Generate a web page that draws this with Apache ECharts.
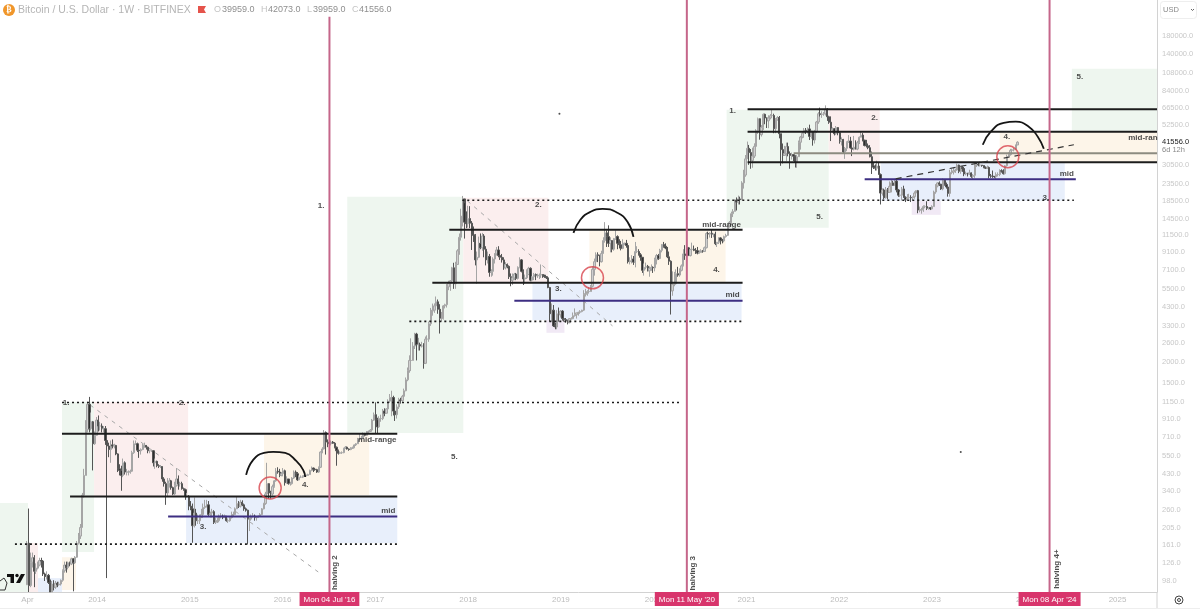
<!DOCTYPE html>
<html><head><meta charset="utf-8">
<script src="https://cdn.jsdelivr.net/npm/echarts@6/dist/echarts.min.js"></script>
<style>html,body{margin:0;padding:0;background:#fff}#c{width:1200px;height:610px}</style></head>
<body><div id="c"></div>
<script>
// ---- weekly data (first bar: week of 2013-04-01) ----
const firstOpen = 93;
const closes = [
165,92,127,135,112,117,122,130,129,108,104,106,96,77,94,90,95,93,94,99,113,122,118,126,124,133,126,136,165,182,205,320,420,790,1120,800,880,650,730,900,
830,830,800,800,680,630,600,640,630,635,565,460,450,420,500,440,440,440,445,575,650,650,595,590,600,630,635,620,590,590,590,500,510,480,475,475,400,375,330,375,390,355,325,365,400,375,375,350,345,315,315,275,
265,210,250,225,225,235,245,270,275,280,245,250,255,220,225,225,240,240,235,240,225,225,235,245,245,265,285,275,290,280,265,260,230,230,240,240,235,235,240,245,265,285,325,375,330,325,360,390,445,440,420,430,
448,380,400,375,375,405,440,430,395,410,410,415,420,420,425,450,465,458,455,440,470,580,605,760,665,660,650,665,655,620,590,570,575,575,610,620,605,600,610,615,640,650,690,700,700,745,730,765,770,785,900,970,
905,820,920,920,1020,990,1050,1170,1230,1230,1020,970,1080,1190,1180,1250,1350,1570,1780,2050,2050,2500,2950,2550,2550,2500,2500,1970,2750,2750,3400,4050,4100,4350,4600,4150,3650,3650,4350,4420,5650,5950,6150,7350,5900,7700,9300,11200,15000,19000,13800,13500,
14500,13600,11600,11500,8200,8500,10300,9700,11400,9500,8200,8600,6900,7000,8300,8900,9400,8700,8500,8200,7350,7700,7500,6500,6200,6400,6750,6350,7400,8200,7000,6300,6400,6700,7300,6200,6500,6700,6600,6600,6650,6700,6650,6500,6400,5600,3900,4100,3300,3250,3900,3850,4050,
3650,3600,3550,3450,3650,3650,3800,3850,3950,3980,4020,4100,5100,5150,5300,5300,5700,7200,8000,8800,8700,8000,8950,10700,11900,11300,10300,10700,9500,11000,11300,10300,10100,9600,10300,10300,10000,8000,8100,8300,7950,9200,9200,8800,8500,7100,7400,7500,7050,7300,7400,7350,
8200,8700,8350,9350,10150,9900,9650,8550,8050,5350,5850,5900,6780,6650,7100,7550,8900,8700,9680,8700,9450,9500,9350,9300,9000,9070,9300,9200,9700,11800,11700,11850,11650,11700,10250,10450,11100,10750,10650,11300,11500,13100,13750,15500,16000,18700,18200,19000,18800,23700,26400,33000,
38200,36000,32300,34300,39200,48600,57400,46100,51000,61000,58000,55800,58000,59800,60000,50000,56500,58300,46700,37500,34600,35500,39100,35500,34600,35000,34200,31500,34000,41500,44600,47000,49000,48800,49900,45000,48300,42800,48200,54900,61500,60900,61300,61500,65500,59000,54700,49200,50000,46700,50800,47300,
41900,43100,36300,38200,41500,42200,38400,37700,38800,37800,41300,44500,45800,42800,39700,39500,38500,34000,30000,29400,29000,29900,26600,20600,21500,19300,21600,20800,22600,23700,22900,24300,21500,20000,20000,21800,19400,18800,19300,19400,19300,19600,20600,21300,16300,16300,16400,17100,17100,16700,16850,16550,
17100,20900,22700,23700,23300,21800,24600,23200,22400,20500,27400,27500,28000,28300,30300,27800,29300,28900,26800,27100,26800,27200,25900,26300,30500,30600,30300,30300,30100,29400,29000,29300,26100,26000,25900,25800,26600,26600,28000,27900,26900,30000,34100,35000,37100,37400,37500,39959,41556];
const highs = [
170,266,145,145,140,125,128,135,135,130,110,112,108,100,98,99,98,97,97,100,115,128,128,128,128,135,134,138,170,190,215,330,460,900,1160,1240,1000,890,770,940,
960,880,860,830,830,700,660,680,690,650,640,570,490,480,530,510,460,450,455,590,680,680,660,610,610,650,660,630,625,600,600,595,530,515,490,485,475,410,385,405,405,395,360,385,465,420,385,385,355,350,330,320,
295,285,310,265,245,245,265,285,300,300,295,255,265,260,235,235,245,250,245,245,240,232,238,255,255,270,315,295,300,298,285,270,262,235,245,250,245,240,242,250,268,288,335,500,345,340,370,395,465,470,460,440,
465,455,415,400,385,410,450,450,440,420,420,420,425,425,430,455,475,468,462,460,475,585,620,785,770,690,680,680,675,665,625,600,585,585,615,630,625,610,620,625,645,655,705,745,725,760,755,775,780,795,915,1000,
1150,930,950,970,1050,1060,1060,1200,1290,1350,1260,1100,1120,1225,1225,1275,1390,1620,1860,2200,2780,2640,3000,3000,2800,2620,2650,2600,2850,2900,3500,4230,4490,4500,4950,4750,4450,4000,4400,4480,5880,6150,6200,7450,7880,7990,9500,11800,16600,19800,17900,16000,
17300,17200,14000,13000,11700,9200,11300,11800,11900,11700,9900,9200,8900,7200,8500,9000,9800,9900,9400,8900,8500,7950,7800,7600,6800,6800,6850,6850,7500,8500,8300,7200,6700,7200,7450,7400,6550,6850,6800,6780,6800,7700,6700,6600,6550,6500,5650,4500,4400,3450,4100,4250,4100,
4100,3700,3680,3600,3680,3720,3970,4200,3950,4010,4100,4120,5400,5500,5400,5650,5800,7500,8350,9100,9100,8800,9300,11200,13800,12300,13200,11200,10700,11100,12300,11500,10900,10650,10900,10400,10800,10100,8500,8750,8650,10500,9900,9500,9000,8500,7800,7900,7650,7500,7700,7500,
8450,8900,8900,9550,10200,10500,10300,9800,9200,8150,7000,6950,7200,7450,7300,7700,9500,10050,9950,9800,9550,10400,9990,9650,9800,9350,9500,9400,9850,12000,12100,12000,12500,11750,12100,10500,11200,11200,10950,11450,11750,13200,14000,15950,16500,18800,19400,19900,19600,24250,28400,34800,
41900,40000,37800,38500,40900,49700,58300,52600,52600,61800,61600,58500,60200,61200,64900,61500,57900,59500,59600,46700,40800,39500,41300,41300,36600,36000,35100,34700,34800,42500,45300,47900,50500,50500,51000,52900,48800,48500,49200,55700,62900,66900,63600,63000,69000,66300,59800,59300,51000,50500,51900,48400,
47900,44400,43500,38900,42000,45800,44700,40000,45300,42600,42300,45000,48200,47100,42400,42900,40800,39900,36500,31400,30600,32200,31500,27000,22000,21900,22400,22100,24200,24700,24400,25100,25200,21800,21000,22400,22800,19700,20300,20400,20000,19700,21100,21000,21500,17100,16800,17400,17400,18400,17000,16900,
17400,21300,23300,23900,24200,23400,25200,25000,23800,22700,28400,28900,29200,28800,30900,30500,30000,29800,29500,27700,27200,28400,27400,26800,31400,31400,31500,31800,30300,30100,29700,30100,29700,26800,28100,26100,27400,27400,28600,28600,28600,30300,35000,36100,37900,37900,38400,40200,42073];
const lows = [
93,55,90,118,90,108,115,120,118,105,98,100,94,66,76,86,88,90,92,92,97,110,110,115,120,122,85,124,135,162,175,205,310,420,760,760,780,450,640,730,
770,780,760,760,640,102,540,500,610,610,555,440,420,340,410,425,420,420,430,440,565,640,580,535,560,595,615,600,570,570,580,475,460,470,465,465,385,360,280,315,355,345,320,320,360,345,360,345,340,300,310,260,
260,166,205,210,215,215,235,235,265,270,240,235,235,215,215,218,220,232,230,235,222,218,222,232,240,245,265,268,270,275,258,255,162,195,225,235,225,225,235,238,243,263,280,320,305,305,318,355,385,430,410,415,
415,365,375,370,365,370,400,410,390,395,405,405,412,415,418,424,445,440,448,435,435,465,570,600,560,620,620,635,650,610,480,560,565,565,570,605,600,590,595,605,612,630,650,680,690,700,720,725,755,765,780,890,
750,750,810,880,900,950,985,1050,1140,950,960,890,920,1050,1130,1160,1230,1340,1540,1730,1780,2050,2400,2050,2350,2350,2450,1830,1950,2600,2650,3300,3800,3950,4300,3900,2970,3500,3600,4200,4250,5400,5350,6000,5500,5500,7650,8800,10700,13000,11000,12700,
12800,12700,9400,10500,7600,5900,8400,9500,9300,8500,7600,7800,6500,6500,6600,7800,8700,8500,8200,7900,7150,7200,7300,6300,5700,5800,6200,6200,6250,7300,6900,5800,5900,6300,6650,6100,6100,6200,6200,6400,6300,6400,6400,6400,6300,5550,3500,3500,3250,3150,3150,3500,3700,
3550,3500,3450,3370,3420,3600,3620,3750,3650,3800,3900,3980,4050,4950,5000,5150,5300,5600,6600,7600,7950,7500,7900,8950,10400,9800,9800,9100,9100,9300,10800,9500,9600,9350,9500,10050,9700,7800,7700,7800,7650,7400,9000,8700,8100,6850,6600,7200,7000,6500,7050,6850,
7000,7700,8200,8300,9100,9700,9500,8400,7650,3860,5000,5700,6150,6500,6500,7000,7500,8200,8200,8700,8600,9350,9250,8900,8850,8950,9050,9050,9150,9600,10950,11150,11100,11200,10050,9800,10200,10150,10300,10450,11150,11400,12800,13250,14800,16000,16200,17600,17600,18700,21900,25800,
33000,30400,28800,29200,33400,38000,46500,43000,44900,49200,53200,50500,50400,56900,58500,47000,47000,56000,43800,30000,31000,34800,32000,34200,28800,32700,32000,29300,29200,33900,37500,43800,44200,46500,46800,42800,43600,39600,40800,47100,53500,59200,58100,59800,60000,55700,53500,42200,47400,45600,46000,45700,
40700,39700,35500,33000,36700,41200,38000,34300,37100,37600,37200,40500,44800,42000,39200,38600,37700,33700,26800,28700,28100,28100,26600,17600,19900,18900,19100,18900,20700,20800,22800,22700,20800,19550,19500,18600,19300,18200,18500,19000,18200,18650,19050,20100,15600,15800,15500,15900,16700,16300,16350,16300,
16500,17100,20400,22300,22700,21500,21400,22800,21900,19600,19600,26700,26600,27200,28000,27100,26900,27600,26000,26300,25900,26500,25400,24800,25400,29500,29800,29700,29600,29000,28700,28700,25200,25400,25400,25400,24900,25900,26000,27300,26600,26600,29700,33900,34500,36300,36600,37400,39959];

const priceTicks = [180000,140000,108000,84000,66500,52500,30500,23500,18500,14500,11500,9100,7100,5500,4300,3300,2600,2000,1500,1150,910,710,550,430,340,260,205,161,126,98];
const lastPrice = 41556;
const yearTicks = [2013.25,2014,2015,2016,2017,2018,2019,2020,2021,2022,2023,2024,2025];
const yearLabels = ['Apr','2014','2015','2016','2017','2018','2019','2020','2021','2022','2023','2024','2025'];
const halvings = [['2016-07-04',"Mon 04 Jul '16",234000],['2020-05-11',"Mon 11 May '20",295000],['2024-04-08',"Mon 08 Apr '24",295000]];

// zones: from year, to year, low price, high price, tint
const GREEN='#eef6ef',PINK='#fbeeee',BLUE='#e8effb',ORANGE='#fdf5e9',PURPLE='#f1e9f5';
const zones = [
[2012.954,2013.256,84.2,287,GREEN],[2013.256,2013.364,84.2,165.5,PINK],[2013.364,2013.622,84.2,102,BLUE],[2013.622,2013.773,86.6,136,ORANGE],
[2013.622,2013.968,146,1157,GREEN],[2013.968,2014.982,316.6,1157,PINK],[2014.96,2017.236,165.5,316.6,BLUE],[2015.80,2016.934,321,734,ORANGE],
[2016.697,2017.948,755,19570,GREEN],[2017.948,2018.865,5974,19300,PINK],[2018.693,2020.947,3586,5974,BLUE],[2018.844,2019.038,3000,3586,PURPLE],[2019.307,2020.775,5974,12240,ORANGE],
[2020.786,2021.886,12760,64980,GREEN],[2021.886,2022.436,31270,64980,PINK],[2022.447,2024.431,18510,31270,BLUE],[2022.781,2023.094,15260,18510,PURPLE],[2023.73,2025.425,31480,47980,ORANGE],
[2024.507,2025.425,47980,114300,GREEN]];
// level lines: from year, to year, price
const solidLevels = [[2013.622,2017.236,745],[2013.709,2017.236,314],[2017.614,2020.958,5974],[2017.797,2020.958,12410],[2021.012,2025.425,31480],[2021.012,2025.425,47980],[2021.012,2025.425,65400]];
const grayLevels = [[2021.508,2025.425,35670]];
const midLevels = [[2014.766,2017.236,238.6],[2018.498,2020.958,4662],[2022.274,2024.55,24920]];
const dottedLevels = [[2013.115,2017.236,163],[2013.622,2020.289,1149],[2017.366,2020.958,3514],[2017.937,2024.529,18640]];
// trend lines: x0,p0,x1,p1
const grayTrends = [[2013.925,1110,2016.384,111],[2017.991,18510,2019.556,3300]];
const darkTrends = [[2022.608,25080,2024.529,40100]];
const arc1 = [[2015.607,423],[2015.683,520],[2015.80,573],[2015.899,581],[2016.028,573],[2016.147,513],[2016.222,453],[2016.244,411]];
const arc2 = [[2019.135,11900],[2019.210,14250],[2019.318,15900],[2019.448,16580],[2019.609,15690],[2019.717,13860],[2019.782,11270]];
const arc3 = [[2023.547,40100],[2023.633,47980],[2023.773,54300],[2023.903,55100],[2024.043,51400],[2024.14,44800],[2024.205,37950]];
const rings = [[2015.866,353],[2019.340,6400],[2023.817,34000]];
const specks = [[2018.984,61470],[2023.31,581]];
const notes = [
['1.',2016.416,17280],['2.',2018.757,17520],['2.',2014.917,1141],['1.',2013.666,1141],['3.',2015.143,206],['4.',2016.244,368],['5.',2017.851,542],
['mid-range',2017.02,685],['mid',2017.139,257],['mid-range',2020.731,13300],['3.',2018.973,5500],['4.',2020.677,7140],['mid',2020.85,5066],
['1.',2020.85,64090],['2.',2022.382,58100],['5.',2021.788,14850],['4.',2023.806,44800],['mid',2024.453,26860],['3.',2024.227,19300],['5.',2024.593,102400],['mid-ran',2025.273,44100]];
const vnotes = [['halving 2',2016.567,110],['halving 3',2020.419,109],['halving 4+',2024.345,115.5]];

// ---- build: x axis runs in decimal years ----
const YMIN=84.2, YMAX=295000;
const YR=365.25*864e5, T0=Date.UTC(2014,0,1);
const yr=v=>v;
const floorP=v=>Math.max(v,YMIN);
const dateToYear=ms=>2014+(ms-T0)/YR;
const WEEK=7*864e5, START=Date.UTC(2013,3,1);
const candles=closes.map((c,i)=>[dateToYear(START+i*WEEK),floorP(i?closes[i-1]:firstOpen),floorP(c),floorP(lows[i]),highs[i]]);
const chipAt=halvings.map(h=>dateToYear(Date.parse(h[0]+'T00:00:00Z')));
const F='"Liberation Sans",Arial,sans-serif';
const lineSeries=(rows,style,z)=>rows.map(r=>({type:'line',symbol:'none',silent:true,z:z||4,animation:false,lineStyle:style,
  data:r.length===3?[[yr(r[0]),r[2]],[yr(r[1]),r[2]]]:[[yr(r[0]),r[1]],[yr(r[2]),r[3]]]}));
const arcSeries=a=>({type:'line',symbol:'none',smooth:0.5,silent:true,z:5,lineStyle:{color:'#151515',width:1.8},data:a.map(p=>[yr(p[0]),p[1]])});

const series=[
 {type:'line',symbol:'none',silent:true,z:1,data:[],markArea:{silent:true,animation:false,z:1,
   data:zones.map(r=>[{xAxis:yr(r[0]),yAxis:r[2],itemStyle:{color:r[4],opacity:1}},{xAxis:yr(r[1]),yAxis:r[3]}])}},
 ...lineSeries(grayTrends,{color:'#a8a8a8',width:1,type:[4,5]},2),
 {type:'candlestick',z:3,barWidth:1.8,encode:{x:0,y:[1,2,3,4]},data:candles,silent:true,
   itemStyle:{color:'#cfcfcf',color0:'#2e2e2e',borderColor:'#a5a5a5',borderColor0:'#555555',borderWidth:1}},
 ...lineSeries(solidLevels,{color:'#1c1c1c',width:2}),
 ...lineSeries(grayLevels,{color:'#8c8b80',width:2}),
 ...lineSeries(midLevels,{color:'#3d2e82',width:2}),
 ...lineSeries(dottedLevels,{color:'#1a1a1a',width:1.6,type:[2,3]}),
 ...lineSeries(darkTrends,{color:'#333',width:1.2,type:[6,5]},4),
 arcSeries(arc1),arcSeries(arc2),arcSeries(arc3),
 {type:'scatter',z:6,silent:true,symbol:'circle',symbolSize:22,itemStyle:{color:'rgba(0,0,0,0)',borderColor:'#d8444c',borderWidth:1.5},data:rings.map(p=>[yr(p[0]),p[1]])},
 {type:'scatter',z:6,silent:true,symbolSize:2,itemStyle:{color:'#222'},data:specks.map(p=>[yr(p[0]),p[1]])},
 ...halvings.map((h,k)=>({type:'line',symbol:'none',silent:true,z:7,lineStyle:{color:'#c5668a',width:2},data:[[chipAt[k],YMIN],[chipAt[k],h[2]]]})),
 {type:'scatter',z:8,silent:true,symbolSize:0,clip:false,data:notes.map(n=>({name:n[0],value:[yr(n[1]),n[2]]})),
   label:{show:true,position:'inside',formatter:'{b}',fontFamily:F,fontWeight:'bold',fontSize:8,color:'#222'}},
 {type:'scatter',z:8,silent:true,symbolSize:0,clip:false,data:vnotes.map(n=>({name:n[0],value:[yr(n[1]),n[2]]})),
   label:{show:true,position:'inside',rotate:90,formatter:'{b}',fontFamily:F,fontWeight:'bold',fontSize:8,color:'#222'}}
];
const V='#8f8f8f',L='#c4c4c4';
const T=(text,x,y,fill,size,extra)=>({type:'text',x,y,z:50,style:Object.assign({text,fill,font:(size||10)+'px '+F,textVerticalAlign:'middle'},extra||{})});
const graphic=[
 {type:'circle',shape:{cx:9,cy:10,r:6},style:{fill:'#f0962a'},z:50},
 T('₿',9,10,'#fff',8,{textAlign:'center',font:'bold 8px "DejaVu Sans"'}),
 T('Bitcoin / U.S. Dollar · 1W · BITFINEX',18,10,'#b5b5b5',10.5),
 {type:'polygon',shape:{points:[[198,6],[206,6],[204,9.5],[206,13],[198,13]]},style:{fill:'#e5534b'},z:50},
 T('O',214,10,L,9),T('39959.0',222,10,V,9),T('H',261,10,L,9),T('42073.0',268,10,V,9),T('L',307,10,L,9),T('39959.0',313,10,V,9),T('C',352,10,L,9),T('41556.0',359,10,V,9),
 {type:'rect',shape:{x:1160.5,y:1.5,width:36,height:17,r:3},style:{fill:'#fff',stroke:'#eee'},z:50},
 T('USD',1163,10,'#888',7.5),
 {type:'polyline',shape:{points:[[1191,9],[1192.5,10.5],[1194,9]]},style:{stroke:'#666',fill:null,lineWidth:1},z:50},
 T('6d 12h',1162,150,'#8a8a8a',7.5),
 {type:'line',shape:{x1:1157,y1:592,x2:1157,y2:608},style:{stroke:'#d2d2d2'},z:50},
 {type:'line',shape:{x1:0,y1:608.5,x2:1200,y2:608.5},style:{stroke:'#eeeeee'},z:50},
 {type:'circle',shape:{cx:1179,cy:600,r:4},style:{fill:'#fff',stroke:'#444',lineWidth:1},z:50},
 {type:'circle',shape:{cx:1179,cy:600,r:1.5},style:{fill:'#fff',stroke:'#444',lineWidth:1},z:50},
 {type:'rect',shape:{x:7,y:574,width:7,height:3},style:{fill:'#111'},z:50},
 {type:'rect',shape:{x:10.5,y:574,width:3.5,height:9},style:{fill:'#111'},z:50},
 {type:'circle',shape:{cx:17,cy:575.5,r:1.7},style:{fill:'#111'},z:50},
 {type:'polygon',shape:{points:[[21,574],[25,574],[20,583],[16,583]]},style:{fill:'#111'},z:50},
 {type:'polyline',shape:{points:[[0,581],[4,578],[7,583],[5,590],[0,590]]},style:{stroke:'#333',fill:null,lineWidth:1},z:50}
];
const chart=echarts.init(document.getElementById('c'),null,{renderer:'canvas'});
chart.setOption({
 animation:false,backgroundColor:'#fff',
 grid:{left:0,right:43,top:0,bottom:18,containLabel:false},
 tooltip:{show:false},legend:{show:false},
 graphic:{elements:graphic},
 xAxis:{type:'value',min:2012.954,max:2025.425,scale:true,splitLine:{show:false},
   axisLine:{show:true,onZero:false,lineStyle:{color:'#d2d2d2',width:1}},axisTick:{show:false},
   axisLabel:{margin:0,fontFamily:F,fontSize:8,color:'#bdbdbd',hideOverlap:false,showMinLabel:true,showMaxLabel:true,
     customValues:yearTicks.concat(chipAt),
     formatter:function(v){
       const k=chipAt.findIndex(c=>Math.abs(c-v)<1e-6); if(k>=0) return '{chip|'+halvings[k][1]+'}';
       const i=yearTicks.findIndex(y=>Math.abs(y-v)<1e-6);
       return i>=0?'{yr|'+yearLabels[i]+'}':'';},
     rich:{yr:{color:'#bdbdbd',fontFamily:F,fontSize:8,padding:[4,0,0,0]},
           chip:{backgroundColor:'#d8356c',color:'#fff',fontFamily:F,fontSize:8,padding:[4,4,2,4]}}}},
 yAxis:{type:'log',logBase:10,min:YMIN,max:YMAX,position:'right',splitLine:{show:false},
   axisLine:{show:true,lineStyle:{color:'#d2d2d2'}},axisTick:{show:false},minorTick:{show:false},
   axisLabel:{margin:5,fontFamily:F,fontSize:7.5,color:'#c8c8c8',hideOverlap:false,
     customValues:priceTicks.concat([lastPrice]),
     formatter:function(v){const r=Math.round(v);return r===lastPrice?'{cur|'+r.toFixed(1)+'}':r.toFixed(1);},
     rich:{cur:{color:'#222',fontFamily:F,fontSize:7.5}}}},
 series
});
</script></body></html>
